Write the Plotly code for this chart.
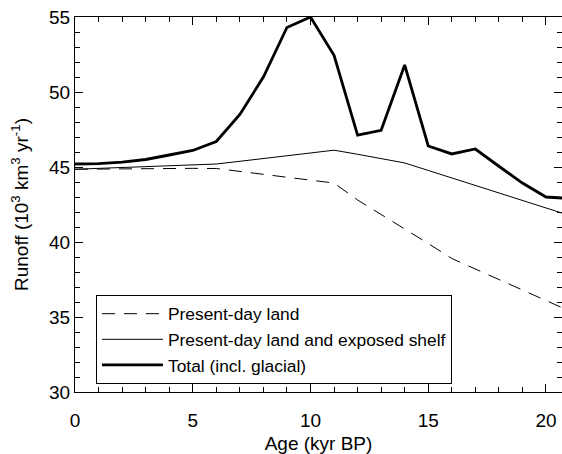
import plotly.graph_objects as go

age_kyr = [0, 1, 2, 3, 4, 5, 6, 7, 8, 9, 10, 11, 12, 13, 14, 15, 16, 17, 18, 19, 20, 21]

present_day_land = [44.85, 44.87, 44.89, 44.9, 44.91, 44.91, 44.9, 44.7, 44.5, 44.3, 44.1, 43.93,
                    42.8, 41.85, 40.9, 39.9, 38.9, 38.2, 37.5, 36.8, 36.1, 35.4]

land_and_shelf = [44.85, 44.9, 44.96, 45.02, 45.08, 45.14, 45.2, 45.38, 45.56, 45.74, 45.93, 46.12,
                  45.85, 45.56, 45.27, 44.77, 44.27, 43.77, 43.27, 42.77, 42.27, 41.77]

total_incl_glacial = [45.2, 45.22, 45.32, 45.5, 45.8, 46.1, 46.7, 48.5, 51.0, 54.3, 55.0, 52.45,
                      47.13, 47.45, 51.8, 46.4, 45.87, 46.2, 45.05, 43.93, 43.0, 42.9]

series_names = ["Present-day land", "Present-day land and exposed shelf", "Total (incl. glacial)"]

FONT = "Liberation Sans, Arial, Helvetica, sans-serif"

fig = go.Figure()
fig.add_trace(go.Scatter(x=age_kyr, y=present_day_land, mode="lines", name=series_names[0],
                         line=dict(color="black", width=1, dash="13px,9px"), legendgroup="a"))
fig.add_trace(go.Scatter(x=age_kyr, y=land_and_shelf, mode="lines", name=series_names[1],
                         line=dict(color="black", width=1), legendgroup="b"))
fig.add_trace(go.Scatter(x=age_kyr, y=total_incl_glacial, mode="lines", name=series_names[2],
                         line=dict(color="black", width=2.8), legendgroup="c"))

axis_common = dict(
    showline=True, linecolor="black", linewidth=1, mirror="ticks",
    ticks="inside", ticklen=8, tickwidth=1, tickcolor="black",
    showgrid=False, zeroline=False,
    tickfont=dict(family=FONT, size=19, color="black"),
)

fig.update_xaxes(range=[0, 20.68], dtick=5, tick0=0, ticklabelstandoff=11,
                 minor=dict(dtick=1, ticks="inside", ticklen=5, tickcolor="black", showgrid=False),
                 title=dict(text="Age (kyr BP)", font=dict(family=FONT, size=19, color="black"), standoff=18),
                 **axis_common)
fig.update_yaxes(range=[30, 55], dtick=5, tick0=30,
                 minor=dict(dtick=1, ticks="inside", ticklen=5, tickcolor="black", showgrid=False),
                 title=dict(text="Runoff (10<sup>3</sup> km<sup>3</sup> yr<sup>-1</sup>)",
                            font=dict(family=FONT, size=19, color="black"), standoff=15),
                 **axis_common)

fig.update_layout(
    width=562, height=454,
    margin=dict(l=75, r=0, t=17, b=62, autoexpand=False),
    paper_bgcolor="white", plot_bgcolor="white",
    font=dict(family=FONT, color="black"),
    legend=dict(x=0.043, y=0.259, xanchor="left", yanchor="top",
                bgcolor="white", bordercolor="black", borderwidth=1,
                font=dict(family=FONT, size=17.4, color="black"),
                itemwidth=61, tracegroupgap=0, traceorder="normal"),
)

fig.write_html("out.html", config={"displayModeBar": False},
               post_script="document.body.style.margin='0';")
